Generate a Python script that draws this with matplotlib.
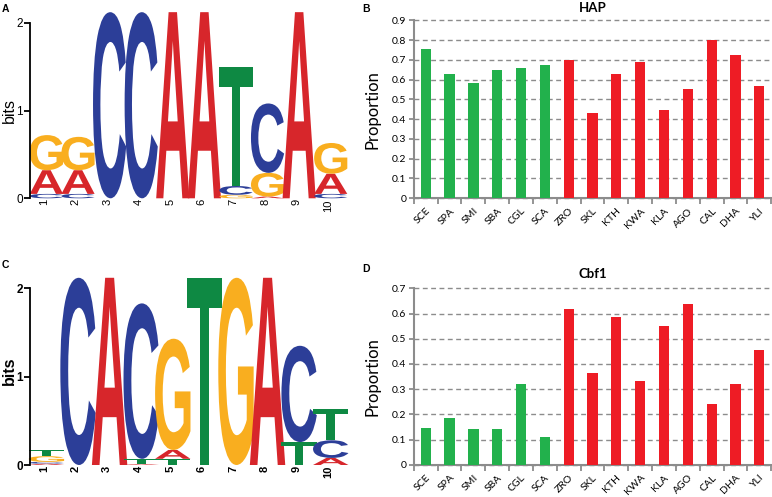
import matplotlib
matplotlib.use("Agg")
import matplotlib.pyplot as plt
import numpy as np
from matplotlib.font_manager import FontProperties
from matplotlib.patches import PathPatch
from matplotlib.textpath import TextPath
from matplotlib.transforms import Affine2D

W, H = 772, 497

# --- sequence logos: bits per base at each motif position ---
positions = np.arange(1, 11)
hap_A = [0.27, 0.27, 0, 0, 2.12, 2.12, 0, 0.02, 2.12, 0.23]
hap_C = [0.05, 0.05, 2.12, 2.12, 0, 0, 0.10, 0.79, 0, 0.05]
hap_G = [0.40, 0.38, 0, 0, 0, 0, 0.04, 0.27, 0, 0.35]
hap_T = [0, 0, 0, 0, 0, 0, 1.35, 0, 0, 0]

cbf_A = [0.015, 0, 2.12, 0.01, 0.10, 0, 0, 2.12, 0, 0.08]
cbf_C = [0.02, 2.12, 0, 1.76, 0, 0, 0, 0, 1.09, 0.20]
cbf_G = [0.065, 0, 0, 0, 1.26, 0, 2.12, 0, 0, 0]
cbf_T = [0.075, 0, 0, 0.06, 0.07, 2.12, 0, 0, 0.26, 0.35]

# --- proportions per species ---
species = ["SCE", "SPA", "SMI", "SBA", "CGL", "SCA", "ZRO", "SKL",
           "KTH", "KWA", "KLA", "AGO", "CAL", "DHA", "YLI"]
hap_prop = [0.753, 0.626, 0.580, 0.650, 0.658, 0.672, 0.700, 0.430,
            0.628, 0.689, 0.445, 0.553, 0.802, 0.722, 0.567]
cbf1_prop = [0.144, 0.187, 0.140, 0.140, 0.319, 0.108, 0.616, 0.364,
             0.586, 0.333, 0.552, 0.638, 0.239, 0.320, 0.454]
n_green = 6  # first species drawn in green, rest in red

base_colors = {"A": "#D7262B", "C": "#2C3E98", "G": "#F9AE1F", "T": "#0E8943"}
GREEN, RED = "#22B14C", "#EE1C25"
GRAY = "#8C8C8C"

letter_font = FontProperties(family="Liberation Sans", weight="bold")


def px_rect(left, top, right, bottom):
    return [left / W, 1 - bottom / H, (right - left) / W, (bottom - top) / H]


def draw_letter(ax, letter, xc, y0, width, height):
    tp = TextPath((0, 0), letter, size=1, prop=letter_font)
    ext = tp.get_extents()
    tr = (Affine2D().translate(-ext.x0, -ext.y0)
          .scale(width / ext.width, height / ext.height)
          .translate(xc - width / 2, y0))
    patch = PathPatch(tr.transform_path(tp), facecolor=base_colors[letter],
                      edgecolor="none", clip_on=False)
    ax.add_patch(patch)


def draw_logo(ax, heights, width, bold):
    weight = "bold" if bold else "normal"
    for i, pos in enumerate(positions):
        stack = sorted([(heights[b][i], b) for b in "ACGT" if heights[b][i] > 0])
        y = 0
        for h, b in stack:
            draw_letter(ax, b, pos, y, width, h)
            y += h
        ax.text(pos - 0.08, -0.01, str(pos), rotation=90, ha="center", va="top",
                fontsize=8, family="Liberation Sans", weight=weight)
    ax.set_xlim(0.48, 10.61)
    ax.set_ylim(0, 2.25)
    for s in ["top", "right", "bottom"]:
        ax.spines[s].set_visible(False)
    ax.spines["left"].set_bounds(0, 2)
    ax.spines["left"].set_linewidth(1.3)
    ax.set_xticks([])
    ax.set_yticks([0, 1, 2])
    ax.tick_params(axis="y", length=4, width=1.3, pad=1, labelsize=8.5)
    for lab in ax.get_yticklabels():
        lab.set_family("Liberation Sans")
        lab.set_weight(weight)
    ax.set_ylabel("bits", fontsize=11.5, family="Liberation Sans", weight=weight)
    ax.patch.set_alpha(0)


def draw_bars(ax, values, title, ymax, title_pad):
    x = np.arange(len(species))
    colors = [GREEN] * n_green + [RED] * (len(species) - n_green)
    ax.bar(x, values, width=0.43, color=colors, zorder=3)
    ax.set_xlim(-0.5, 14.53)
    ax.set_ylim(0, ymax)
    ticks = np.round(np.arange(0, ymax + 0.01, 0.1), 1)
    ax.set_yticks(ticks)
    ax.set_yticklabels(["0" if v == 0 else "%.1f" % v for v in ticks],
                       family="Lato", fontsize=7.5)
    ax.yaxis.grid(True, color=GRAY, linestyle=(0, (3.5, 2.5)), linewidth=1)
    for gl in ax.get_ygridlines():
        gl.set_clip_on(False)
    ax.set_axisbelow(True)
    ax.set_xticks(x)
    ax.set_xticklabels(species, rotation=45, ha="right", va="top",
                       rotation_mode="anchor", family="Lato", fontsize=7.5)
    ax.set_xticks(np.arange(-0.5, len(species)), minor=True)
    ax.tick_params(axis="x", which="major", length=0, pad=6)
    ax.tick_params(axis="x", which="minor", length=4, width=1.3, color=GRAY)
    ax.tick_params(axis="y", length=3.5, width=1.3, color=GRAY, pad=2)
    for s in ["top", "right"]:
        ax.spines[s].set_visible(False)
    for s in ["left", "bottom"]:
        ax.spines[s].set_color(GRAY)
        ax.spines[s].set_linewidth(1.5)
    ax.set_title(title, fontsize=9.5, family="Lato", weight="bold", pad=title_pad)
    ax.set_ylabel("Proportion", fontsize=12, family="Lato")
    ax.yaxis.set_label_coords(-0.092, 0.5)


fig = plt.figure(figsize=(W / 100, H / 100), dpi=100)

ax_a = fig.add_axes(px_rect(30, 0.75, 350, 198.3))
draw_logo(ax_a, {"A": hap_A, "C": hap_C, "G": hap_G, "T": hap_T}, 1.05, False)
ax_a.yaxis.set_label_coords(-0.042, 1 / 2.25)

ax_c = fig.add_axes(px_rect(30, 266.3, 350, 465))
draw_logo(ax_c, {"A": cbf_A, "C": cbf_C, "G": cbf_G, "T": cbf_T}, 1.12, True)
ax_c.yaxis.set_label_coords(-0.042, 1.07 / 2.25)

ax_b = fig.add_axes(px_rect(413.8, 20.3, 772, 198))
draw_bars(ax_b, hap_prop, "HAP", 0.9, 6)

ax_d = fig.add_axes(px_rect(413.8, 288.3, 772, 464.7))
draw_bars(ax_d, cbf1_prop, "Cbf1", 0.7, 7.4)

for lab, xp, yp in [("A", 2, 8.5), ("B", 362, 8.5), ("C", 2, 265), ("D", 362, 269)]:
    fig.text(xp / W, 1 - yp / H, lab, fontsize=7.5, weight="bold",
             family="Liberation Sans", ha="left", va="center")

fig.savefig("out.png", dpi=100)
